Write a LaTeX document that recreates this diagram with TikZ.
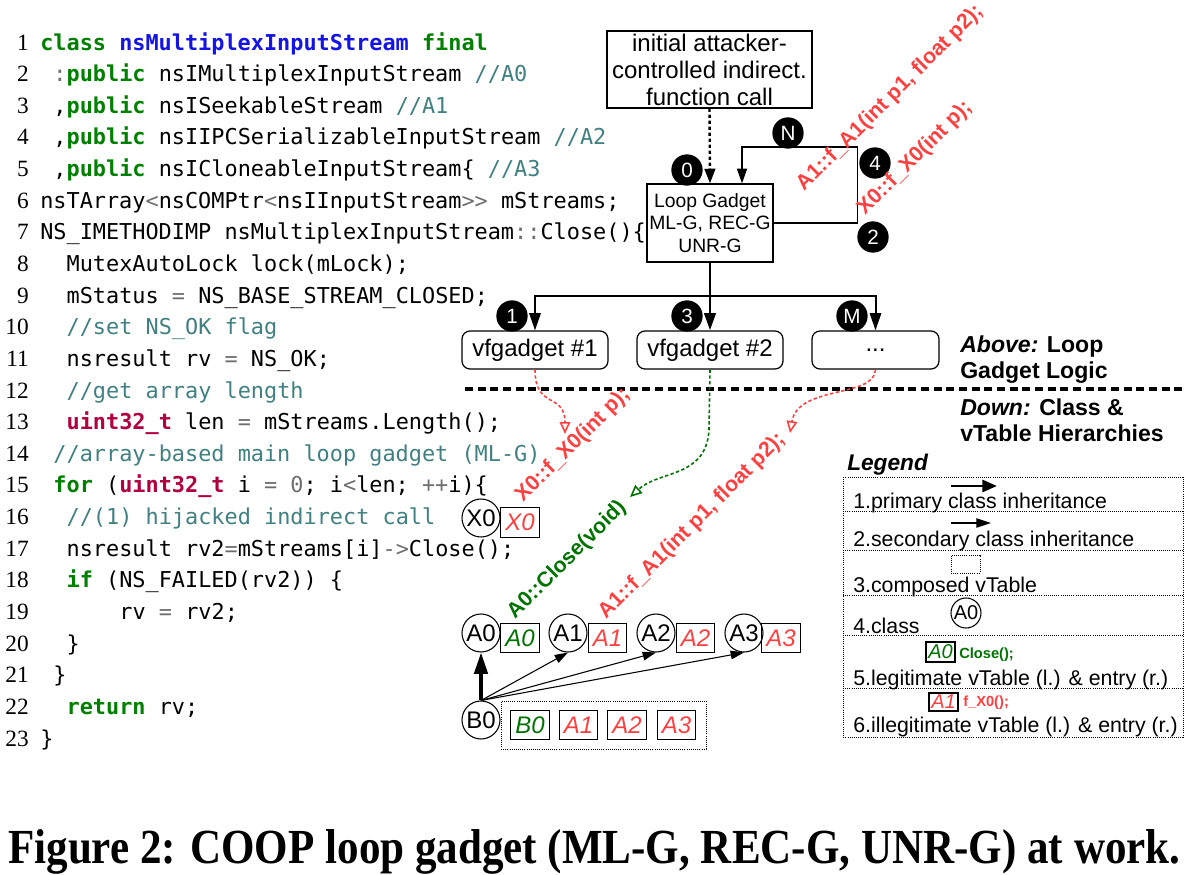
\documentclass[tikz,border=0pt]{standalone}
\usepackage{fontspec}
\setmainfont{Liberation Sans}
\newfontfamily\codefont{DejaVu Sans Mono}
\newfontfamily\numfont{Liberation Serif}
\newfontfamily\capfont{Liberation Serif}
\usetikzlibrary{arrows.meta,calc}
\definecolor{kwgreen}{RGB}{0,128,0}
\definecolor{clsblue}{RGB}{20,20,230}
\definecolor{cmtteal}{RGB}{64,128,128}
\definecolor{typred}{RGB}{176,0,64}
\definecolor{oprgray}{RGB}{110,110,110}
\definecolor{vred}{RGB}{255,64,64}
\definecolor{vgreen}{RGB}{0,115,0}
\newcommand\kwd[1]{\textcolor{kwgreen}{\bfseries #1}}
\newcommand\clsn[1]{\textcolor{clsblue}{\bfseries #1}}
\newcommand\cmt[1]{\textcolor{cmtteal}{#1}}
\newcommand\typ[1]{\textcolor{typred}{\bfseries #1}}
\newcommand\opr[1]{\textcolor{oprgray}{#1}}
\newcommand\codeline[3]{%
  \node[codetext, anchor=base west] (code#1) at ({40+13.2*#2},{50+31.64*(#1-1)}) {#3};
  \node[numtext, anchor=base east] (num#1) at (29,{50+31.64*(#1-1)}) {#1};}
\tikzset{
  sz/.style 2 args={minimum width={#1*0.75pt}, minimum height={#2*0.75pt}},
  codetext/.style={font=\codefont\fontsize{16.4}{20}\selectfont, inner sep=0},
  numtext/.style={font=\numfont\fontsize{17.5}{20}\selectfont, inner sep=0},
  gbox/.style={draw, line width=0.9pt, inner sep=0},
  vfbox/.style={draw, line width=0.9pt, rounded corners=6pt, inner sep=0, font=\fontsize{18}{20}\selectfont},
  numc/.style={circle, fill=black, text=white, minimum size=23.5pt, inner sep=0, font=\fontsize{15.5}{15.5}\selectfont},
  lbl/.style={font=\bfseries\fontsize{16}{16}\selectfont, rotate=45, anchor=base west, inner sep=0},
  ccirc/.style={circle, draw, line width=0.8pt, minimum size=28.5pt, inner sep=0, font=\fontsize{18}{18}\selectfont},
  vtbox/.style={draw, line width=0.8pt, minimum width=29pt, minimum height=22pt, inner sep=0, font=\itshape\fontsize{18}{18}\selectfont},
  larr/.style={line width=1.1pt, -{Triangle[length=11pt,width=7.5pt]}},
  varr/.style={line width=1.5pt, -{Triangle[length=13pt,width=8.5pt]}},
  dotarr/.style={line width=1.8pt, dash pattern=on 2.5pt off 2pt, -{Triangle[length=11pt,width=8pt]}},
  curvarr/.style={line width=1.2pt, dash pattern=on 2.5pt off 1.8pt, -{Triangle[open,length=9pt,width=8pt]}},
  sepline/.style={line width=2.3pt, dash pattern=on 6pt off 3.5pt},
  thickarr/.style={line width=2.6pt, -{Triangle[length=16pt,width=10pt]}},
  thinarr/.style={line width=0.8pt, -{Triangle[length=10pt,width=6.5pt]}},
  side/.style={font=\fontsize{17.3}{17}\selectfont, anchor=base west, inner sep=0},
  legtext/.style={font=\fontsize{16}{16}\selectfont, anchor=base west, inner sep=0},
  ldot/.style={line width=0.6pt, densely dotted},
}
\begin{document}
\begin{tikzpicture}[x=0.75pt,y=-0.75pt]
\useasboundingbox (0,0) rectangle (1190,875);
% ---------- code listing ----------
\codeline{1}{0}{\kwd{class} \clsn{nsMultiplexInputStream} \kwd{final}}
\codeline{2}{1}{\opr{:}\kwd{public} nsIMultiplexInputStream \cmt{//A0}}
\codeline{3}{1}{,\kwd{public} nsISeekableStream \cmt{//A1}}
\codeline{4}{1}{,\kwd{public} nsIIPCSerializableInputStream \cmt{//A2}}
\codeline{5}{1}{,\kwd{public} nsICloneableInputStream\{ \cmt{//A3}}
\codeline{6}{0}{nsTArray\opr{<}nsCOMPtr\opr{<}nsIInputStream\opr{>>} mStreams;}
\codeline{7}{0}{NS\_IMETHODIMP nsMultiplexInputStream\opr{::}Close()\{}
\codeline{8}{2}{MutexAutoLock lock(mLock);}
\codeline{9}{2}{mStatus \opr{=} NS\_BASE\_STREAM\_CLOSED;}
\codeline{10}{2}{\cmt{//set NS\_OK flag}}
\codeline{11}{2}{nsresult rv \opr{=} NS\_OK;}
\codeline{12}{2}{\cmt{//get array length}}
\codeline{13}{2}{\typ{uint32\_t} len \opr{=} mStreams.Length();}
\codeline{14}{1}{\cmt{//array-based main loop gadget (ML-G)}}
\codeline{15}{1}{\kwd{for} (\typ{uint32\_t} i \opr{=} \opr{0}; i\opr{<}len; \opr{++}i)\{}
\codeline{16}{2}{\cmt{//(1) hijacked indirect call}}
\codeline{17}{2}{nsresult rv2\opr{=}mStreams[i]\opr{->}Close();}
\codeline{18}{2}{\kwd{if} (NS\_FAILED(rv2)) \{}
\codeline{19}{6}{rv \opr{=} rv2;}
\codeline{20}{2}{\}}
\codeline{21}{1}{\}}
\codeline{22}{2}{\kwd{return} rv;}
\codeline{23}{0}{\}}
% ---------- loop gadget logic ----------
\node[gbox, sz={205}{77}, font=\fontsize{18}{20.25}\selectfont, align=center] (init) at (709.5,69.5) {initial attacker-\\controlled indirect.\\function call};
\node[gbox, sz={126}{78}, font=\fontsize{14.5}{17}\selectfont, align=center] (lg) at (710,223) {Loop Gadget\\ML-G, REC-G\\UNR-G};
\draw[dotarr] (init.south) -- (lg.north);
\draw[larr] (lg.east) -- ++(84,0) -- ++(0,-76) -| ($(lg.north)+(32,0)$);
\node[vfbox, sz={146}{38}] (vf1) at (535,350) {vfgadget \#1};
\node[vfbox, sz={146}{38}] (vf2) at (710,350) {vfgadget \#2};
\node[vfbox, sz={127}{38}] (vf3) at (875.5,350) {...};
\coordinate (br) at (710,296);
\draw[line width=2.2pt] (lg.south) -- (br);
\draw[varr, line width=2.2pt] (br) -- (vf2.north);
\draw[varr] (br) -| (vf1.north);
\draw[varr] (br) -| (vf3.north);
\node[numc] (c0) at (687,170) {0};
\node[numc] (cN) at (788,133) {N};
\node[numc] (c4) at (875,163) {4};
\node[numc] (c2) at (873,237) {2};
\node[numc] (c1) at (512,316) {1};
\node[numc] (c3) at (687,316) {3};
\node[numc] (cM) at (852,316) {M};
\node[lbl, text=vred] (tA1top) at (804,192) {A1::f\_A1(int p1, float p2);};
\node[lbl, text=vred] (tX0top) at (865,216) {X0::f\_X0(int p);};
% separator
\coordinate (sepL) at (465,389);
\coordinate (sepR) at (1186,389);
\draw[sepline] (sepL) -- (sepR);
\node[side] (ab1) at (960,352) {\bfseries\itshape Above: \normalfont\bfseries Loop};
\node[side] (ab2) at (960,378) {\bfseries Gadget Logic};
\node[side] (dn1) at (960,415) {\bfseries\itshape Down: \normalfont\bfseries Class \&};
\node[side] (dn2) at (960,441) {\bfseries vTable Hierarchies};
% ---------- class / vtable hierarchy ----------
\node[ccirc] (X0) at (481,518) {X0};
\node[vtbox, text=vred] (X0v) at (520,522.5) {X0};
\node[ccirc] (A0) at (481,633) {A0};
\node[vtbox, text=vgreen] (A0v) at (520,638) {A0};
\node[ccirc] (A1) at (568,633) {A1};
\node[vtbox, text=vred] (A1v) at (607.5,638) {A1};
\node[ccirc] (A2) at (656,633) {A2};
\node[vtbox, text=vred] (A2v) at (695.5,638) {A2};
\node[ccirc] (A3) at (744,633) {A3};
\node[vtbox, text=vred] (A3v) at (781,638) {A3};
\node[ccirc] (B0) at (481,720) {B0};
\node[draw, ldot, sz={205}{48}] (B0comp) at (603.5,725) {};
\node[vtbox, text=vgreen] (B0v) at (530,725) {B0};
\node[vtbox, text=vred] (B0a1) at (578.5,725) {A1};
\node[vtbox, text=vred] (B0a2) at (627,725) {A2};
\node[vtbox, text=vred] (B0a3) at (676.5,725) {A3};
\draw[thickarr] (B0.north) -- (A0.south);
\draw[thinarr] (B0.north) -- (A1.south);
\draw[thinarr] (B0.north) -- (A2.south);
\draw[thinarr] (B0.north) -- (A3.south);
\node[lbl, text=vred] (tX0) at (523,503) {X0::f\_X0(int p);};
\node[lbl, text=vgreen] (tA0) at (515,620) {A0::Close(void)};
\node[lbl, text=vred] (tA1) at (606,620) {A1::f\_A1(int p1, float p2);};
\draw[curvarr, vred] (vf1.south) .. controls (535,410) and (565,392) .. (565,434);
\draw[curvarr, vgreen] (vf2.south) -- (709,430) .. controls (706,478) and (660,470) .. (630,497);
\draw[curvarr, vred] (vf3.south) .. controls (875,398) and (798,385) .. (790,433);
% ---------- legend ----------
\node[font=\bfseries\itshape\fontsize{17}{17}\selectfont, anchor=base west, inner sep=0] (legT) at (847,470) {Legend};
\draw[ldot] (843,477) rectangle (1183,737);
\foreach \yy in {511,550,595,635,688} \draw[ldot] (843,\yy) -- (1183,\yy);
\coordinate (l1a) at (951,486); \coordinate (l1b) at (997,486);
\draw[line width=2.2pt, -{Triangle[length=11pt,width=9pt]}] (l1a) -- (l1b);
\node[legtext] (leg1) at (853,508) {1.primary class inheritance};
\coordinate (l2a) at (951,523); \coordinate (l2b) at (991,523);
\draw[line width=0.9pt, -{Triangle[length=11pt,width=7pt]}] (l2a) -- (l2b);
\node[legtext] (leg2) at (853,546) {2.secondary class inheritance};
\node[draw, ldot, sz={29}{18}] (legbox) at (965.5,564) {};
\node[legtext] (leg3) at (853,592) {3.composed vTable};
\node[ccirc, minimum size=22.5pt, font=\fontsize{15}{15}\selectfont] (legc) at (966,613) {A0};
\node[legtext] (leg4) at (853,633) {4.class};
\node[draw, line width=0.8pt, sz={29}{20}, inner sep=0, text=vgreen, font=\itshape\fontsize{15}{15}\selectfont] (legv5) at (940.5,652) {A0};
\node[anchor=west, inner sep=0, text=vgreen, font=\bfseries\fontsize{11}{11}\selectfont] (lege5) at (959,655) {Close();};
\node[legtext] (leg5) at (853,685) {5.legitimate vTable (l.) \& entry (r.)};
\node[draw, line width=0.8pt, sz={29}{18}, inner sep=0, text=vred, font=\itshape\fontsize{15}{15}\selectfont] (legv6) at (943.5,702) {A1};
\node[anchor=west, inner sep=0, text=vred, font=\bfseries\fontsize{11}{11}\selectfont] (lege6) at (963,703) {f\_X0();};
\node[legtext] (leg6) at (853,732) {6.illegitimate vTable (l.) \& entry (r.)};
% ---------- caption ----------
\node[anchor=base west, inner sep=0] (cap) at (8,863) {\resizebox{879pt}{25.5pt}{\capfont\bfseries Figure 2: COOP loop gadget (ML-G, REC-G, UNR-G) at work.}};
\end{tikzpicture}
\end{document}
